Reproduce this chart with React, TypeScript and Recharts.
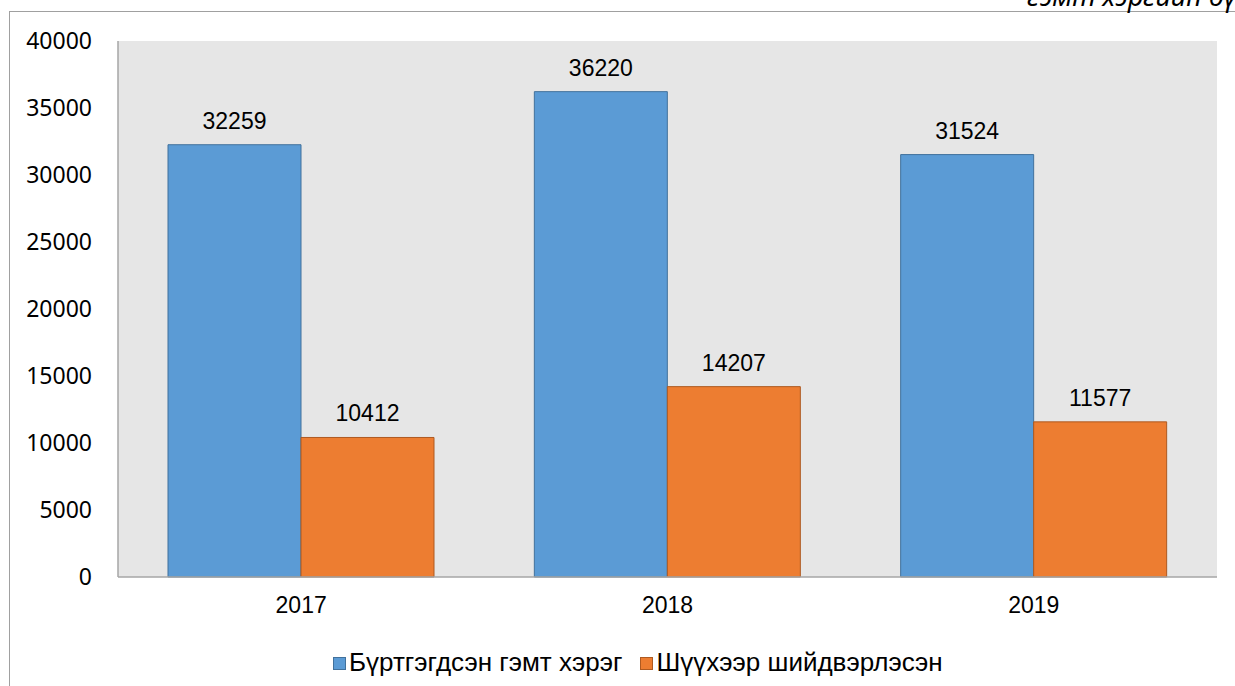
import { BarChart, Bar, XAxis, YAxis, CartesianGrid, Legend, LabelList } from 'recharts';

const years = ['2017', '2018', '2019'];
const registered = [32259, 36220, 31524];
const resolved = [10412, 14207, 11577];
const yTicks = [0, 5000, 10000, 15000, 20000, 25000, 30000, 35000, 40000];

const SERIES_NAMES = ['Бүртгэгдсэн гэмт хэрэг', 'Шүүхээр шийдвэрлэсэн'];
const BLUE = '#5b9bd5';
const ORANGE = '#ed7d31';
const AXIS = '#a6a6a6';

const data = years.map((year, i) => ({
  year,
  registered: registered[i],
  resolved: resolved[i],
}));

const renderLegend = (props: any) => {
  const { payload } = props;
  return (
    <div style={{ display: 'flex', alignItems: 'center', fontFamily: 'Liberation Sans, Arial, sans-serif', fontSize: 26, color: '#000', lineHeight: 1 }}>
      {payload.map((entry: any, index: number) => (
        <div key={`item-${index}`} style={{ display: 'flex', alignItems: 'center', marginRight: 18 }}>
          <span
            style={{
              display: 'inline-block',
              width: 11,
              height: 11,
              background: entry.color,
              border: `1px solid ${index === 0 ? '#41719c' : '#ae5a21'}`,
              marginRight: 3,
              marginTop: 3,
            }}
          />
          <span>{entry.value}</span>
        </div>
      ))}
    </div>
  );
};

export default function App() {
  return (
    <div style={{ position: 'absolute', left: 0, top: 0, width: 1235, height: 686, overflow: 'hidden', background: '#fff' }}>
      <div
        style={{
          position: 'absolute',
          left: 9,
          top: 11,
          width: 1250,
          height: 700,
          borderLeft: '1.5px solid #a0a0a0',
          borderTop: '1.5px solid #a0a0a0',
        }}
      />
      <svg style={{ position: 'absolute', left: 0, top: 0 }} width={1235} height={20}>
        <text x={1027} y={6} fontFamily="Noto Sans, sans-serif" fontStyle="italic" fontSize={27} fill="#000">
          гэмт хэргийн бүртгэл
        </text>
      </svg>
      <div style={{ position: 'absolute', left: 0, top: 0 }}>
        <BarChart
          width={1235}
          height={686}
          data={data}
          margin={{ top: 41, right: 18, left: 18, bottom: 79 }}
          barCategoryGap={50}
          barGap={0}
        >
          <CartesianGrid fill="#e6e6e6" horizontal={false} vertical={false} />
          <XAxis
            dataKey="year"
            height={30}
            tickSize={0}
            tickMargin={20}
            axisLine={{ stroke: AXIS, strokeWidth: 1.5 }}
            tickLine={false}
            tick={{ fontFamily: 'Liberation Sans, Arial, sans-serif', fontSize: 23, fill: '#000' }}
          />
          <YAxis
            width={100}
            domain={[0, 40000]}
            ticks={yTicks}
            interval={0}
            tickSize={0}
            tickMargin={26}
            axisLine={{ stroke: AXIS, strokeWidth: 1.5 }}
            tickLine={false}
            tick={{ fontFamily: 'Noto Sans, sans-serif', fontSize: 23, fill: '#000' }}
          />
          <Legend
            verticalAlign="middle"
            align="center"
            content={renderLegend}
            wrapperStyle={{ position: 'absolute', left: 333, top: 649, width: 'auto' }}
          />
          <Bar dataKey="registered" name={SERIES_NAMES[0]} fill={BLUE} stroke="#41719c" strokeWidth={1} isAnimationActive={false}>
            <LabelList dataKey="registered" position="top" offset={16} fontFamily="Liberation Sans, Arial, sans-serif" fontSize={23} fill="#000" />
          </Bar>
          <Bar dataKey="resolved" name={SERIES_NAMES[1]} fill={ORANGE} stroke="#ae5a21" strokeWidth={1} isAnimationActive={false}>
            <LabelList dataKey="resolved" position="top" offset={16} fontFamily="Liberation Sans, Arial, sans-serif" fontSize={23} fill="#000" />
          </Bar>
        </BarChart>
      </div>
    </div>
  );
}
